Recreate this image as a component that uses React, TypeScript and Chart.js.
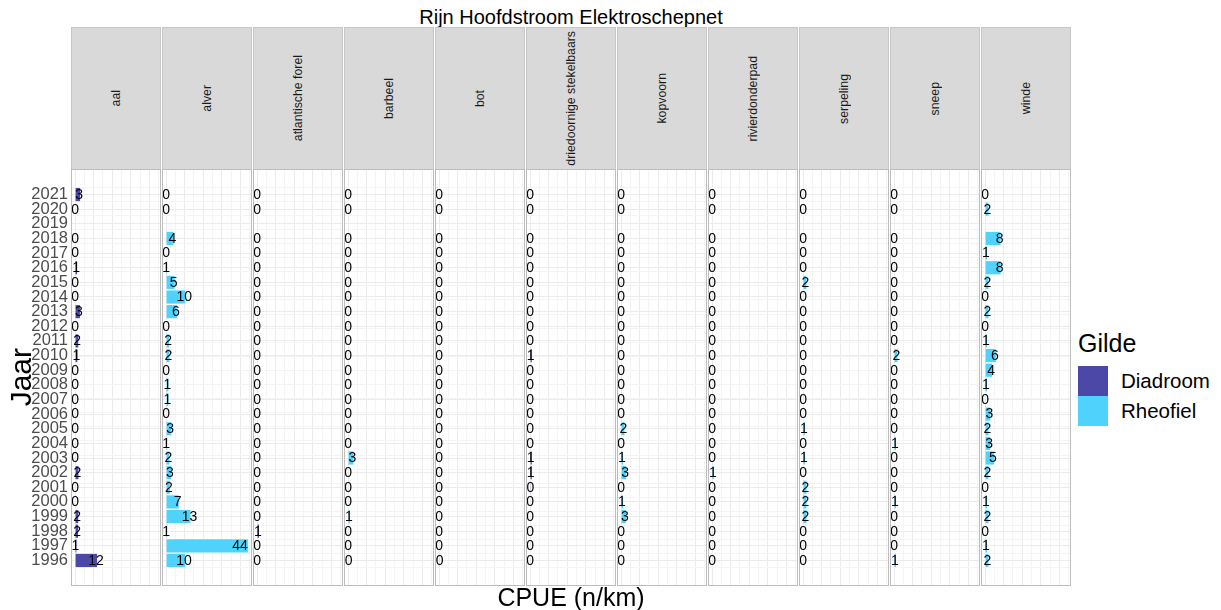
import React, { useEffect, useRef } from 'react';
import { Chart, registerables } from 'chart.js';

Chart.register(...registerables);

const FONT = '"Liberation Sans", Arial, Helvetica, sans-serif';
Chart.defaults.font.family = FONT;

// ---- data ----
const TITLE = 'Rijn Hoofdstroom Elektroschepnet';
const X_TITLE = 'CPUE (n/km)';
const Y_TITLE = 'Jaar';
const LEGEND_TITLE = 'Gilde';

const YEAR_TICKS = [1996, 1997, 1998, 1999, 2000, 2001, 2002, 2003, 2004, 2005, 2006, 2007, 2008,
  2009, 2010, 2011, 2012, 2013, 2014, 2015, 2016, 2017, 2018, 2019, 2020, 2021];

// years with observations (2019 missing)
const YEARS = [1996, 1997, 1998, 1999, 2000, 2001, 2002, 2003, 2004, 2005, 2006, 2007, 2008,
  2009, 2010, 2011, 2012, 2013, 2014, 2015, 2016, 2017, 2018, 2020, 2021];

const SPECIES = ['aal', 'alver', 'atlantische forel', 'barbeel', 'bot', 'driedoornige stekelbaars',
  'kopvoorn', 'rivierdonderpad', 'serpeling', 'sneep', 'winde'];
const SPECIES_GILDE = ['Diadroom', 'Rheofiel', 'Diadroom', 'Rheofiel', 'Diadroom', 'Diadroom',
  'Rheofiel', 'Rheofiel', 'Rheofiel', 'Rheofiel', 'Rheofiel'];

//                 1996 1997 1998 1999 2000 2001 2002 2003 2004 2005 2006 2007 2008 2009 2010 2011 2012 2013 2014 2015 2016 2017 2018 2020 2021
const aal =       [11.8, 0.7, 1.6, 1.7, 0,   0,   1.8, 0,   0,   0,   0,   0,   0,   0,   1.2, 1.7, 0,   2.6, 0,   0,   1.1, 0,   0,   0,   2.7];
const alver =     [10.2, 44,  0.6, 13.1, 6.8, 2,  2.6, 1.8, 0.6, 2.7, 0,   1.2, 1.2, 0,   1.8, 1.6, 0,   5.8, 10.3, 4.6, 0.6, 0,  3.9, 0,   0];
const forel =     [0,    0,   1,   0,   0,   0,   0,   0,   0,   0,   0,   0,   0,   0,   0,   0,   0,   0,   0,   0,   0,   0,   0,   0,   0];
const barbeel =   [0.3,  0,   0,   1,   0,   0,   0,   2.8, 0,   0,   0,   0,   0,   0,   0,   0,   0,   0,   0,   0,   0,   0,   0,   0,   0];
const bot =       [0.3,  0,   0,   0,   0,   0,   0,   0,   0,   0,   0,   0,   0,   0,   0,   0,   0,   0,   0,   0,   0,   0,   0,   0,   0];
const driedoorn = [0,    0,   0,   0,   0,   0.2, 0.9, 0.9, 0,   0,   0,   0,   0,   0,   0.9, 0,   0,   0,   0,   0,   0,   0,   0,   0,   0];
const kopvoorn =  [0,    0,   0,   2.6, 1,   0,   2.7, 1,   0,   1.8, 0,   0,   0,   0,   0,   0,   0,   0,   0,   0,   0,   0,   0,   0,   0];
const donderpad = [0,    0,   0,   0,   0,   0,   1,   0,   0,   0,   0,   0,   0,   0,   0,   0,   0,   0,   0,   0,   0,   0,   0,   0,   0];
const serpeling = [0,    0,   0,   1.8, 1.8, 1.8, 0,   1,   0,   1,   0,   0,   0,   0,   0,   0,   0,   0,   0,   1.8, 0,   0,   0,   0,   0];
const sneep =     [1,    0,   0,   0,   1,   0,   0,   0,   1,   0,   0,   0,   0,   0,   1.8, 0,   0,   0,   0,   0,   0,   0,   0,   0,   0];
const winde =     [1.8,  1,   0,   1.8, 1,   0,   1.8, 4.8, 2.7, 1.8, 2.8, 0,   1,   3.8, 5.8, 1,   0,   1.8, 0,   1.8, 8.4, 1,   8.3, 1.8, 0];

const SERIES = [aal, alver, forel, barbeel, bot, driedoorn, kopvoorn, donderpad, serpeling, sneep, winde];

const GROUPS = ['Diadroom', 'Rheofiel'];
const GROUP_COLORS: Record<string, string> = { Diadroom: '#4B48A8', Rheofiel: '#4FD3FD' };

// ---- layout ----
const X_MIN = -2.2;
const X_MAX = 46.2;
const Y_MIN = 1994.255;
const Y_MAX = 2022.745;
const X_GRID = [0, 5, 10, 15, 20, 25, 30, 35, 40, 45];
const Y_MINOR = YEAR_TICKS.map((v) => v - 0.5).concat([2021.5]);

const PANEL_LEFT0 = 71;
const PANEL_STEP = 91;
const PANEL_W = 90;
const STRIP_TOP = 27;
const PANEL_TOP = 169;
const PANEL_H = 417;
const Y_AXIS_W = 63;

const panelBorder = {
  id: 'panelBorder',
  afterDraw(chart: any) {
    const { ctx, chartArea } = chart;
    ctx.save();
    ctx.strokeStyle = '#BDBDBD';
    ctx.lineWidth = 1;
    ctx.strokeRect(chartArea.left + 0.5, chartArea.top + 0.5, chartArea.right - chartArea.left - 1, chartArea.bottom - chartArea.top - 1);
    ctx.restore();
  },
};

const valueLabels = {
  id: 'valueLabels',
  afterDatasetsDraw(chart: any) {
    const { ctx, chartArea } = chart;
    ctx.save();
    ctx.font = `14px ${FONT}`;
    ctx.fillStyle = '#000000';
    ctx.textBaseline = 'middle';
    chart.data.datasets.forEach((ds: any, di: number) => {
      const meta = chart.getDatasetMeta(di);
      meta.data.forEach((el: any, i: number) => {
        const v = ds.data[i].x;
        const txt = String(Math.round(v));
        const w = ctx.measureText(txt).width;
        const cx = v >= 0.5 ? el.x - 1 : el.x;
        if (cx + w / 2 > chartArea.right - 3) {
          ctx.textAlign = 'right';
          ctx.fillText(txt, el.x, el.y + 0.5);
        } else {
          ctx.textAlign = 'center';
          ctx.fillText(txt, cx, el.y + 0.5);
        }
      });
    });
    ctx.restore();
  },
};

function Panel({ index }: { index: number }) {
  const ref = useRef<HTMLCanvasElement>(null);
  const first = index === 0;
  const axisW = first ? Y_AXIS_W : 0;
  const width = PANEL_W + axisW;
  const left = PANEL_LEFT0 + index * PANEL_STEP - axisW;

  useEffect(() => {
    if (!ref.current) return;
    const values = SERIES[index];
    const color = GROUP_COLORS[SPECIES_GILDE[index]];
    const chart = new Chart(ref.current, {
      type: 'bar',
      data: {
        datasets: [
          {
            label: SPECIES[index],
            data: YEARS.map((y, i) => ({ x: values[i], y })),
            backgroundColor: color,
            borderWidth: 0,
            barPercentage: 0.9,
            categoryPercentage: 1,
          } as any,
        ],
      },
      options: {
        indexAxis: 'y',
        responsive: false,
        maintainAspectRatio: false,
        animation: false,
        events: [],
        layout: { padding: 0, autoPadding: false } as any,
        plugins: { legend: { display: false }, tooltip: { enabled: false }, title: { display: false } },
        scales: {
          x: {
            type: 'linear',
            position: 'bottom',
            min: X_MIN,
            max: X_MAX,
            afterBuildTicks: (a: any) => { a.ticks = X_GRID.map((v) => ({ value: v })); },
            afterFit: (s: any) => { s.height = 0; s.paddingLeft = 0; s.paddingRight = 0; },
            ticks: { display: false },
            grid: {
              drawTicks: false,
              lineWidth: 1,
              color: (ctx: any) => (ctx.tick && ctx.tick.value % 10 === 0 ? '#EBEBEB' : '#F4F4F4'),
            },
            border: { display: false },
          },
          y: {
            type: 'linear',
            position: 'left',
            min: Y_MIN,
            max: Y_MAX,
            offset: false,
            afterBuildTicks: (a: any) => { a.ticks = YEAR_TICKS.map((v) => ({ value: v })); },
            afterFit: (s: any) => { s.width = axisW; s.paddingTop = 0; s.paddingBottom = 0; },
            ticks: {
              display: first,
              autoSkip: false,
              padding: 3,
              color: '#4D4D4D',
              font: { size: 16.5, family: FONT },
              callback: (v: any) => String(v),
            },
            grid: { drawTicks: false, offset: false, lineWidth: 1, color: '#EBEBEB' },
            border: { display: false },
          },
          yMinor: {
            type: 'linear',
            position: 'right',
            min: Y_MIN,
            max: Y_MAX,
            afterBuildTicks: (a: any) => { a.ticks = Y_MINOR.map((v) => ({ value: v })); },
            afterFit: (s: any) => { s.width = 0; s.paddingTop = 0; s.paddingBottom = 0; },
            ticks: { display: false },
            grid: { drawTicks: false, lineWidth: 1, color: '#F4F4F4' },
            border: { display: false },
          },
        } as any,
      } as any,
      plugins: [panelBorder, valueLabels],
    });
    return () => chart.destroy();
  }, [index]);

  return (
    <canvas
      ref={ref}
      width={width}
      height={PANEL_H}
      style={{ position: 'absolute', left, top: PANEL_TOP, width, height: PANEL_H }}
    />
  );
}

function Strip({ index }: { index: number }) {
  const left = PANEL_LEFT0 + index * PANEL_STEP;
  return (
    <div
      style={{
        position: 'absolute',
        left,
        top: STRIP_TOP,
        width: PANEL_W,
        height: PANEL_TOP - STRIP_TOP + 1,
        boxSizing: 'border-box',
        background: '#D9D9D9',
        border: '1px solid #C6C6C6',
        display: 'flex',
        alignItems: 'center',
        justifyContent: 'center',
      }}
    >
      <span
        style={{
          writingMode: 'vertical-rl',
          transform: 'rotate(180deg)',
          fontSize: 12.3,
          color: '#1A1A1A',
          whiteSpace: 'nowrap',
        }}
      >
        {SPECIES[index]}
      </span>
    </div>
  );
}

export default function App() {
  const panelsRight = PANEL_LEFT0 + (SPECIES.length - 1) * PANEL_STEP + PANEL_W;
  return (
    <div
      style={{
        position: 'absolute',
        left: 0,
        top: 0,
        width: 1221,
        height: 610,
        background: '#FFFFFF',
        fontFamily: FONT,
        overflow: 'hidden',
      }}
    >
      <div
        style={{
          position: 'absolute',
          left: PANEL_LEFT0,
          width: panelsRight - PANEL_LEFT0,
          top: 6,
          height: 22,
          lineHeight: '22px',
          fontSize: 20,
          textAlign: 'center',
          color: '#000',
        }}
      >
        {TITLE}
      </div>
      {SPECIES.map((s, i) => (
        <Strip key={'s' + s} index={i} />
      ))}
      {SPECIES.map((s, i) => (
        <Panel key={'p' + s} index={i} />
      ))}
      <div
        style={{
          position: 'absolute',
          left: 2,
          top: PANEL_TOP,
          width: 38,
          height: PANEL_H,
          display: 'flex',
          alignItems: 'center',
          justifyContent: 'center',
        }}
      >
        <span style={{ writingMode: 'vertical-rl', transform: 'rotate(180deg)', fontSize: 30, color: '#000' }}>
          {Y_TITLE}
        </span>
      </div>
      <div
        style={{
          position: 'absolute',
          left: PANEL_LEFT0,
          width: panelsRight - PANEL_LEFT0,
          top: 584,
          height: 26,
          lineHeight: '26px',
          fontSize: 25,
          textAlign: 'center',
          color: '#000',
        }}
      >
        {X_TITLE}
      </div>
      <div style={{ position: 'absolute', left: 1078, top: 328, height: 30, lineHeight: '30px', fontSize: 25, color: '#000' }}>
        {LEGEND_TITLE}
      </div>
      {GROUPS.map((g, i) => (
        <React.Fragment key={g}>
          <div
            style={{
              position: 'absolute',
              left: 1078,
              top: 366 + i * 30,
              width: 30,
              height: 30,
              background: GROUP_COLORS[g],
            }}
          />
          <div
            style={{
              position: 'absolute',
              left: 1121,
              top: 366 + i * 30,
              height: 30,
              lineHeight: '30px',
              fontSize: 20.5,
              color: '#000',
            }}
          >
            {g}
          </div>
        </React.Fragment>
      ))}
    </div>
  );
}
